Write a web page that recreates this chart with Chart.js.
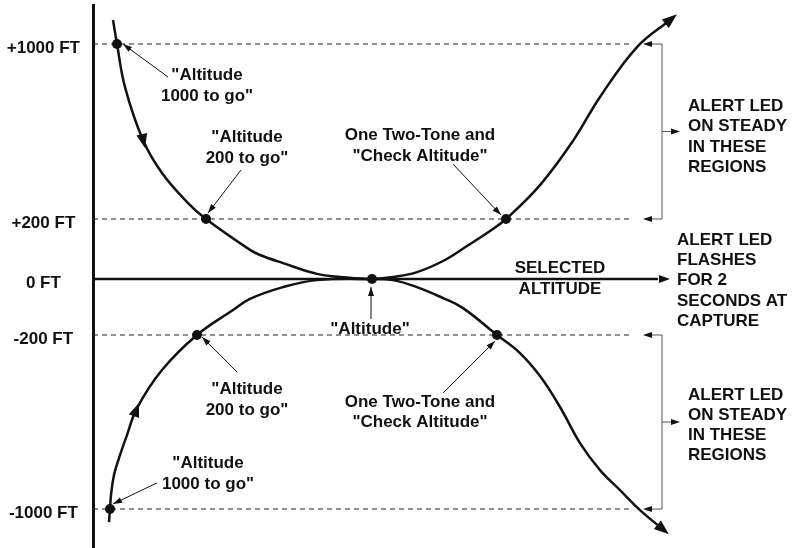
<!DOCTYPE html>
<html>
<head>
<meta charset="utf-8">
<script src="https://cdn.jsdelivr.net/npm/chart.js@4.4.1/dist/chart.umd.min.js"></script>
<style>
  html, body { margin: 0; padding: 0; background: #fff; }
  #caixa { width: 792px; height: 548px; }
</style>
</head>
<body>
<div id="caixa"><canvas id="graficoAltitude"></canvas></div>
<script>
// niveis de altitude (FT) e seus rotulos
const niveis = [1000, 200, 0, -200, -1000];
const rotulosNiveis = ['+1000 FT', '+200 FT', '0 FT', '-200 FT', '-1000 FT'];

// curva vindo de cima (tempo, FT)
const tempoAcima = [20, 24, 32, 50, 69, 95, 113, 157, 167, 190, 224, 247, 279, 300, 324, 350, 374, 397, 413, 447, 480, 507, 544, 577];
const altAcima = [1110, 1000, 803, 561, 410, 273, 200, 97, 80, 53, 17, 7, 0, 7, 23, 60, 110, 160, 200, 355, 557, 758, 986, 1110];

// curva vindo de baixo (tempo, FT)
const tempoAbaixo = [16, 17, 18, 21, 26, 34, 44, 69, 104, 140, 157, 190, 224, 279, 300, 324, 350, 370, 404, 427, 447, 467, 487, 507, 527, 547, 569];
const altAbaixo = [-1060, -1000, -936, -844, -766, -660, -536, -361, -200, -111, -71, -29, -4, 0, -4, -29, -68, -104, -200, -283, -389, -531, -697, -821, -913, -1005, -1090];

// pontos dos avisos
const tempoAvisos = [24, 113, 279, 413, 17, 104, 404];
const altAvisos = [1000, 200, 0, 200, -1000, -200, -200];

// escala vertical nao linear: posicao de cada nivel no desenho
const posNiveis = [235, 60, 0, -56, -230];

function paraTela(ft) {
    // interpolacao por trechos entre os niveis
    for (let i = 0; i < niveis.length - 1; i++) {
        const a = niveis[i], b = niveis[i + 1];
        if ((ft <= a && ft >= b) || (i === 0 && ft > a) || (i === niveis.length - 2 && ft < b)) {
            return posNiveis[i] + (ft - a) * (posNiveis[i + 1] - posNiveis[i]) / (b - a);
        }
    }
    return 0;
}

const fonte = 'bold 17px "Liberation Sans", Arial, sans-serif';

// textos: [linhas, tempo, FT da primeira linha, alinhamento, altura da linha]
const textos = [
    [['"Altitude', '1000 to go"'], 114, 858, 'center', 21],
    [['"Altitude', '200 to go"'], 154, 575, 'center', 21],
    [['One Two-Tone and', '"Check Altitude"'], 327, 584, 'center', 21],
    [['SELECTED', 'ALTITUDE'], 467, 37, 'center', 21],
    [['"Altitude"'], 277, -179, 'center', 21],
    [['One Two-Tone and', '"Check Altitude"'], 327, -508, 'center', 20],
    [['"Altitude', '200 to go"'], 154, -448, 'center', 21],
    [['"Altitude', '1000 to go"'], 115, -789, 'center', 21],
    [['ALERT LED', 'ON STEADY', 'IN THESE', 'REGIONS'], 595, 717, 'left', 20.5],
    [['ALERT LED', 'FLASHES', 'FOR 2', 'SECONDS AT', 'CAPTURE'], 584, 130, 'left', 20.3],
    [['ALERT LED', 'ON STEADY', 'IN THESE', 'REGIONS'], 595, -476, 'left', 20]
];

// setas finas dos textos: [t0, ft0, t1, ft1]
const setasNotas = [
    [75, 849, 30, 1000],
    [148, 424, 115, 227],
    [360, 451, 408, 218],
    [278, -143, 278, -29],
    [350, -467, 402, -228],
    [144, -370, 109, -209],
    [64, -880, 20, -977]
];

function ponta(ctx, x1, y1, x2, y2, comp, larg) {
    const ang = Math.atan2(y2 - y1, x2 - x1);
    ctx.save();
    ctx.translate(x2, y2);
    ctx.rotate(ang);
    ctx.beginPath();
    ctx.moveTo(0, 0);
    ctx.lineTo(-comp, -larg / 2);
    ctx.lineTo(-comp, larg / 2);
    ctx.closePath();
    ctx.fill();
    ctx.restore();
}

const desenhos = {
    id: 'desenhos',
    afterDatasetsDraw(chart) {
        const ctx = chart.ctx;
        const x = chart.scales.x, y = chart.scales.y;
        const px = t => x.getPixelForValue(t);
        const py = ft => y.getPixelForValue(paraTela(ft));
        ctx.save();
        ctx.fillStyle = '#111';
        ctx.strokeStyle = '#111';

        // pontas das curvas
        [0, 1].forEach(i => {
            const pts = chart.getDatasetMeta(i).data;
            const a = pts[pts.length - 2], b = pts[pts.length - 1];
            const d = Math.hypot(b.x - a.x, b.y - a.y);
            const tx = b.x + (b.x - a.x) / d * 9, ty = b.y + (b.y - a.y) / d * 9;
            ponta(ctx, b.x, b.y, tx, ty, 15, 11);
        });
        // setas de sentido no meio das curvas
        ponta(ctx, px(49), py(584), px(52), py(525), 14, 11);
        ponta(ctx, px(41), py(-572), px(46), py(-513), 14, 11);

        // seta da linha 0 FT
        ponta(ctx, px(560), py(0), px(577), py(0), 11, 8);

        // setas finas
        ctx.lineWidth = 1;
        setasNotas.forEach(s => {
            const x1 = px(s[0]), y1 = py(s[1]), x2 = px(s[2]), y2 = py(s[3]);
            ctx.beginPath();
            ctx.moveTo(x1, y1);
            ctx.lineTo(x2, y2);
            ctx.stroke();
            ponta(ctx, x1, y1, x2, y2, 9, 6);
        });

        // colchetes das regioes
        [[1000, 200, 600], [-200, -1000, -600]].forEach(c => {
            ctx.strokeStyle = '#555';
            ctx.lineWidth = 1;
            ctx.beginPath();
            ctx.moveTo(px(552), py(c[0]));
            ctx.lineTo(px(569), py(c[0]));
            ctx.lineTo(px(569), py(c[1]));
            ctx.lineTo(px(552), py(c[1]));
            ctx.moveTo(px(569), py(c[2]));
            ctx.lineTo(px(580), py(c[2]));
            ctx.stroke();
            ponta(ctx, px(569), py(c[0]), px(550), py(c[0]), 9, 6);
            ponta(ctx, px(569), py(c[1]), px(550), py(c[1]), 9, 6);
            ponta(ctx, px(569), py(c[2]), px(587), py(c[2]), 9, 6);
        });

        // textos
        ctx.font = fonte;
        ctx.textBaseline = 'middle';
        textos.forEach(tx => {
            ctx.textAlign = tx[3];
            tx[0].forEach((linha, k) => {
                ctx.fillText(linha, px(tx[1]), py(tx[2]) + k * tx[4]);
            });
        });
        ctx.restore();
    }
};

function pontos(ts, fts) {
    return ts.map((t, i) => ({ x: t, y: paraTela(fts[i]) }));
}

const linhasTracejadas = niveis.filter(v => v !== 0).map(v => ({
    data: [{ x: 0, y: paraTela(v) }, { x: 540, y: paraTela(v) }],
    borderColor: '#222',
    borderWidth: 1,
    borderDash: [5, 4],
    pointRadius: 0,
    tension: 0
}));

const ctx = document.getElementById('graficoAltitude').getContext('2d');
new Chart(ctx, {
    type: 'line',
    data: {
        datasets: [
            {
                data: pontos(tempoAcima, altAcima),
                borderColor: '#111',
                borderWidth: 2.5,
                pointRadius: 0,
                tension: 0.4
            },
            {
                data: pontos(tempoAbaixo, altAbaixo),
                borderColor: '#111',
                borderWidth: 2.5,
                pointRadius: 0,
                tension: 0.4
            },
            {
                data: pontos(tempoAvisos, altAvisos),
                showLine: false,
                pointRadius: 5,
                pointBackgroundColor: '#111',
                pointBorderWidth: 0,
                order: -1
            },
            {
                data: [{ x: 0, y: 0 }, { x: 565, y: 0 }],
                borderColor: '#111',
                borderWidth: 2.5,
                pointRadius: 0
            },
            ...linhasTracejadas
        ]
    },
    options: {
        responsive: true,
        maintainAspectRatio: false,
        animation: false,
        layout: { autoPadding: false, padding: { top: 5, bottom: 0, left: 0, right: 0 } },
        plugins: { legend: { display: false }, tooltip: { enabled: false } },
        scales: {
            x: { type: 'linear', min: 0, max: 699, display: false },
            y: {
                type: 'linear',
                min: -269,
                max: 274,
                grid: { display: false, drawTicks: false },
                border: { display: true, width: 3, color: '#111' },
                afterBuildTicks: scale => {
                    scale.ticks = posNiveis.map(p => ({ value: p }));
                },
                afterFit: scale => {
                    scale.width = 93;
                    scale.paddingTop = 0;
                    scale.paddingBottom = 0;
                },
                ticks: {
                    crossAlign: 'center',
                    padding: 13,
                    labelOffset: 4,
                    color: '#111',
                    font: { family: '"Liberation Sans", Arial, sans-serif', size: 17, weight: 'bold' },
                    callback: (valor) => rotulosNiveis[posNiveis.indexOf(valor)]
                }
            }
        }
    },
    plugins: [desenhos]
});
</script>
</body>
</html>
